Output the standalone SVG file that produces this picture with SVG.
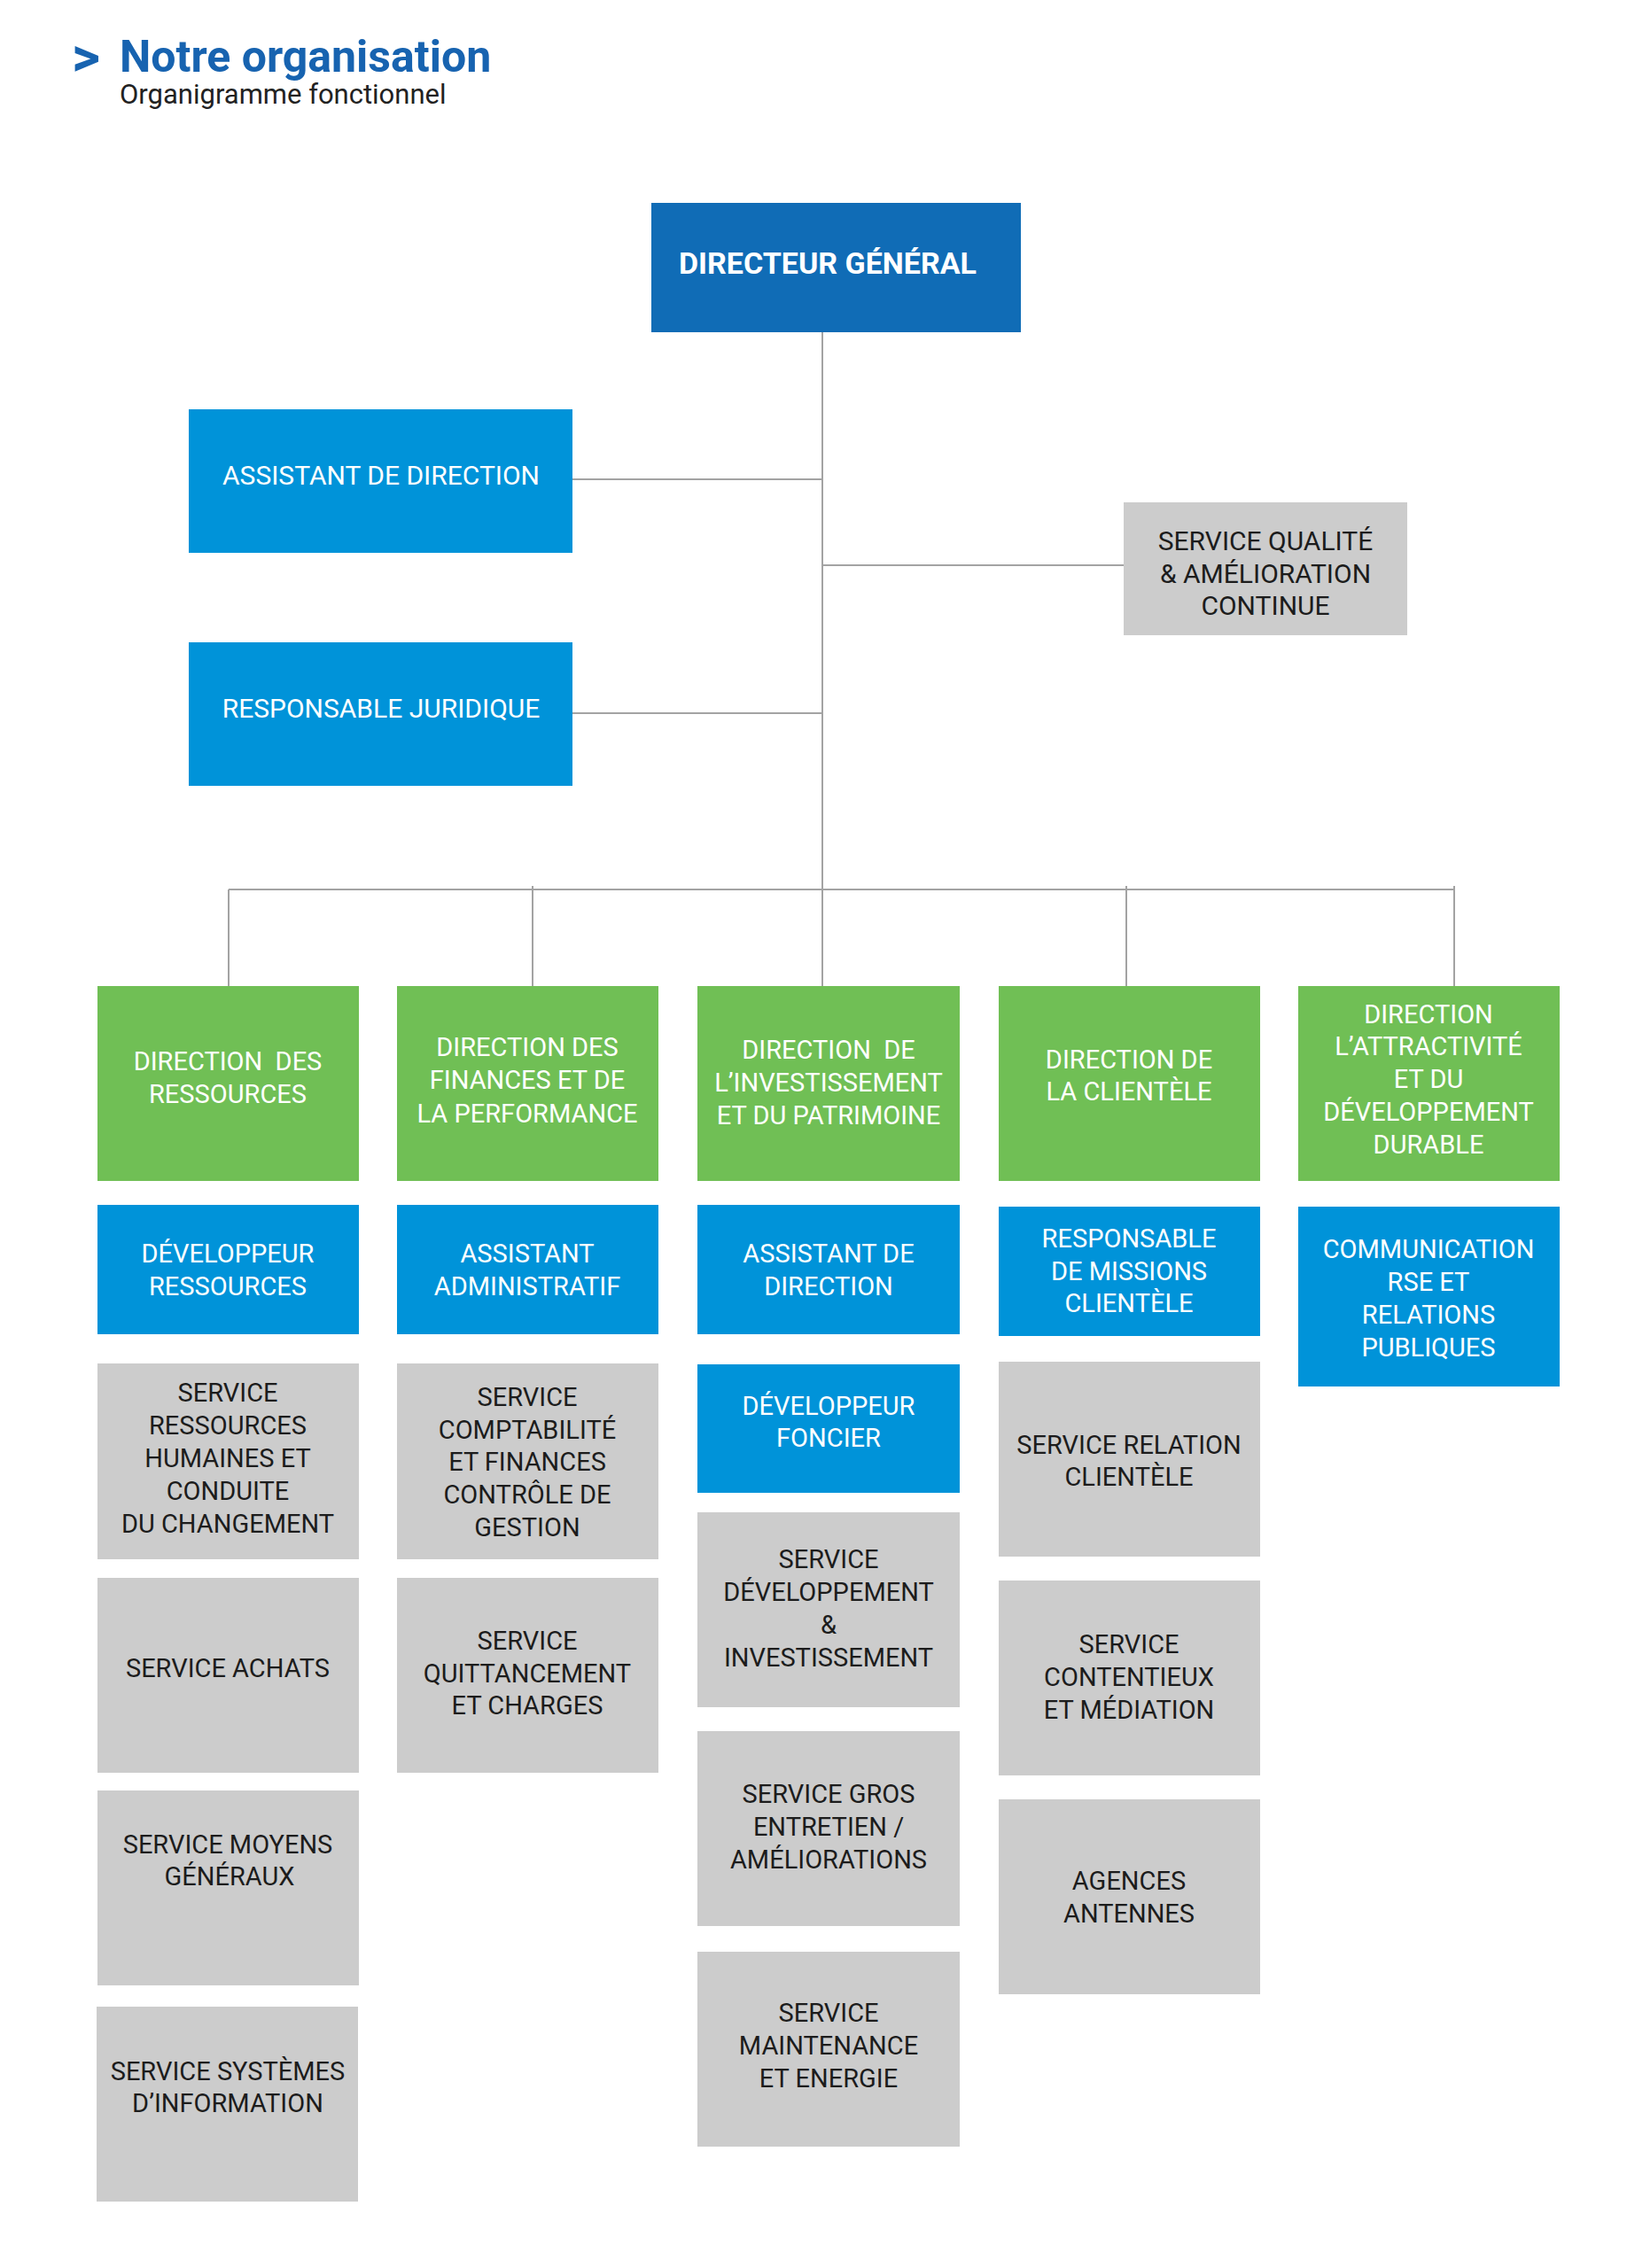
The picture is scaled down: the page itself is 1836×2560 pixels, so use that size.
<svg xmlns="http://www.w3.org/2000/svg" width="1836" height="2560" viewBox="0 0 1836 2560">
<style>
text{font-family:Roboto,"Liberation Sans",sans-serif;text-anchor:middle;font-size:29px}
.w{fill:#ffffff}
.k{fill:#1c1c1c}
.fg{fill:#cccccc}
.fb{fill:#0093d9}
.fgr{fill:#70bf55}
.fdg{fill:#106cb6}
.ln{stroke:#a3a3a3;stroke-width:2;fill:none}
</style>
<rect width="1836" height="2560" fill="#ffffff"/>
<g id="title">
<text x="81" y="85" style="text-anchor:start;font-size:62px;font-weight:bold;fill:#1763b0">&gt;</text>
<text x="135" y="81" style="text-anchor:start;font-size:50px;font-weight:bold;fill:#1763b0">Notre organisation</text>
<text x="135" y="117" style="text-anchor:start;font-size:31px;fill:#222222">Organigramme fonctionnel</text>
</g>
<g id="connectors">
<path class="ln" d="M928 375V1113M646 541H928M646 805H928M928 638H1268M258 1004H1641M258 1004V1113M601 1000V1113M1271 1000V1113M1641 1000V1113"/>
</g>
<g id="dg"><rect class="fdg" x="735" y="229" width="417" height="146"/><text class="w" x="934" y="309" style="font-size:34px;font-weight:bold">DIRECTEUR GÉNÉRAL</text></g>
<g id="assistant-direction"><rect class="fb" x="213" y="462" width="433" height="162"/><text class="w" x="430" y="547" style="font-size:30px">ASSISTANT DE DIRECTION</text></g>
<g id="responsable-juridique"><rect class="fb" x="213" y="725" width="433" height="162"/><text class="w" x="430" y="810" style="font-size:30px">RESPONSABLE JURIDIQUE</text></g>
<g id="service-qualite"><rect class="fg" x="1268" y="567" width="320" height="150"/><text class="k" x="1428" style="font-size:30px"><tspan x="1428" y="621">SERVICE QUALITÉ</tspan><tspan x="1428" y="658">&amp; AMÉLIORATION</tspan><tspan x="1428" y="694">CONTINUE</tspan></text></g>

<g id="dir-ressources"><rect class="fgr" x="110" y="1113" width="295" height="220"/><text class="w" xml:space="preserve"><tspan x="257" y="1208">DIRECTION  DES</tspan><tspan x="257" y="1245">RESSOURCES</tspan></text></g>
<g id="dir-finances"><rect class="fgr" x="448" y="1113" width="295" height="220"/><text class="w"><tspan x="595" y="1192">DIRECTION DES</tspan><tspan x="595" y="1229">FINANCES ET DE</tspan><tspan x="595" y="1267">LA PERFORMANCE</tspan></text></g>
<g id="dir-investissement"><rect class="fgr" x="787" y="1113" width="296" height="220"/><text class="w" xml:space="preserve"><tspan x="935" y="1195">DIRECTION  DE</tspan><tspan x="935" y="1232">L’INVESTISSEMENT</tspan><tspan x="935" y="1269">ET DU PATRIMOINE</tspan></text></g>
<g id="dir-clientele"><rect class="fgr" x="1127" y="1113" width="295" height="220"/><text class="w"><tspan x="1274" y="1206">DIRECTION DE</tspan><tspan x="1274" y="1242">LA CLIENTÈLE</tspan></text></g>
<g id="dir-attractivite"><rect class="fgr" x="1465" y="1113" width="295" height="220"/><text class="w"><tspan x="1612" y="1155">DIRECTION</tspan><tspan x="1612" y="1191">L’ATTRACTIVITÉ</tspan><tspan x="1612" y="1228">ET DU</tspan><tspan x="1612" y="1265">DÉVELOPPEMENT</tspan><tspan x="1612" y="1302">DURABLE</tspan></text></g>

<g id="dev-ressources"><rect class="fb" x="110" y="1360" width="295" height="146"/><text class="w"><tspan x="257" y="1425">DÉVELOPPEUR</tspan><tspan x="257" y="1462">RESSOURCES</tspan></text></g>
<g id="assistant-administratif"><rect class="fb" x="448" y="1360" width="295" height="146"/><text class="w"><tspan x="595" y="1425">ASSISTANT</tspan><tspan x="595" y="1462">ADMINISTRATIF</tspan></text></g>
<g id="assistant-direction-2"><rect class="fb" x="787" y="1360" width="296" height="146"/><text class="w"><tspan x="935" y="1425">ASSISTANT DE</tspan><tspan x="935" y="1462">DIRECTION</tspan></text></g>
<g id="resp-missions"><rect class="fb" x="1127" y="1362" width="295" height="146"/><text class="w"><tspan x="1274" y="1408">RESPONSABLE</tspan><tspan x="1274" y="1445">DE MISSIONS</tspan><tspan x="1274" y="1481">CLIENTÈLE</tspan></text></g>
<g id="communication"><rect class="fb" x="1465" y="1362" width="295" height="203"/><text class="w"><tspan x="1612" y="1420">COMMUNICATION</tspan><tspan x="1612" y="1457">RSE ET</tspan><tspan x="1612" y="1494">RELATIONS</tspan><tspan x="1612" y="1531">PUBLIQUES</tspan></text></g>

<g id="srv-rh"><rect class="fg" x="110" y="1539" width="295" height="221"/><text class="k"><tspan x="257" y="1582">SERVICE</tspan><tspan x="257" y="1619">RESSOURCES</tspan><tspan x="257" y="1656">HUMAINES ET</tspan><tspan x="257" y="1693">CONDUITE</tspan><tspan x="257" y="1730">DU CHANGEMENT</tspan></text></g>
<g id="srv-achats"><rect class="fg" x="110" y="1781" width="295" height="220"/><text class="k" x="257" y="1893">SERVICE ACHATS</text></g>
<g id="srv-moyens"><rect class="fg" x="110" y="2021" width="295" height="220"/><text class="k"><tspan x="257" y="2092">SERVICE MOYENS</tspan><tspan x="259" y="2128">GÉNÉRAUX</tspan></text></g>
<g id="srv-si"><rect class="fg" x="109" y="2265" width="295" height="220"/><text class="k"><tspan x="257" y="2348">SERVICE SYSTÈMES</tspan><tspan x="257" y="2384">D’INFORMATION</tspan></text></g>

<g id="srv-compta"><rect class="fg" x="448" y="1539" width="295" height="221"/><text class="k"><tspan x="595" y="1587">SERVICE</tspan><tspan x="595" y="1624">COMPTABILITÉ</tspan><tspan x="595" y="1660">ET FINANCES</tspan><tspan x="595" y="1697">CONTRÔLE DE</tspan><tspan x="595" y="1734">GESTION</tspan></text></g>
<g id="srv-quittancement"><rect class="fg" x="448" y="1781" width="295" height="220"/><text class="k"><tspan x="595" y="1862">SERVICE</tspan><tspan x="595" y="1899">QUITTANCEMENT</tspan><tspan x="595" y="1935">ET CHARGES</tspan></text></g>

<g id="dev-foncier"><rect class="fb" x="787" y="1540" width="296" height="145"/><text class="w"><tspan x="935" y="1597">DÉVELOPPEUR</tspan><tspan x="935" y="1633">FONCIER</tspan></text></g>
<g id="srv-dev-invest"><rect class="fg" x="787" y="1707" width="296" height="220"/><text class="k"><tspan x="935" y="1770">SERVICE</tspan><tspan x="935" y="1807">DÉVELOPPEMENT</tspan><tspan x="935" y="1844">&amp;</tspan><tspan x="935" y="1881">INVESTISSEMENT</tspan></text></g>
<g id="srv-gros-entretien"><rect class="fg" x="787" y="1954" width="296" height="220"/><text class="k"><tspan x="935" y="2035">SERVICE GROS</tspan><tspan x="935" y="2072">ENTRETIEN /</tspan><tspan x="935" y="2109">AMÉLIORATIONS</tspan></text></g>
<g id="srv-maintenance"><rect class="fg" x="787" y="2203" width="296" height="220"/><text class="k"><tspan x="935" y="2282">SERVICE</tspan><tspan x="935" y="2319">MAINTENANCE</tspan><tspan x="935" y="2356">ET ENERGIE</tspan></text></g>

<g id="srv-relation"><rect class="fg" x="1127" y="1537" width="295" height="220"/><text class="k"><tspan x="1274" y="1641">SERVICE RELATION</tspan><tspan x="1274" y="1677">CLIENTÈLE</tspan></text></g>
<g id="srv-contentieux"><rect class="fg" x="1127" y="1784" width="295" height="220"/><text class="k"><tspan x="1274" y="1866">SERVICE</tspan><tspan x="1274" y="1903">CONTENTIEUX</tspan><tspan x="1274" y="1940">ET MÉDIATION</tspan></text></g>
<g id="agences"><rect class="fg" x="1127" y="2031" width="295" height="220"/><text class="k"><tspan x="1274" y="2133">AGENCES</tspan><tspan x="1274" y="2170">ANTENNES</tspan></text></g>
</svg>
